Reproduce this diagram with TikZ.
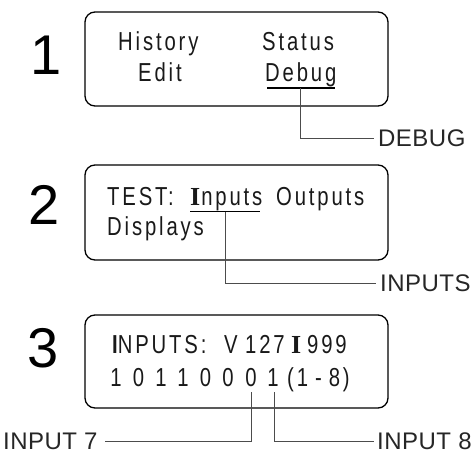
\documentclass[tikz,border=0pt]{standalone}
\usepackage{fontspec}
\setmainfont{Liberation Sans}
\newfontfamily\boxfont[FakeStretch=0.78,LetterSpace=11]{Liberation Sans}
\newfontfamily\labfont[LetterSpace=2]{Liberation Sans}
\newfontfamily\serifb{Liberation Serif}
\tikzset{
  panel/.style={draw=black, line width=1.3pt, rounded corners=10pt, minimum width=303pt, inner sep=0pt},
  txt/.style={font=\boxfont\fontsize{26}{30}\selectfont, inner sep=0pt, anchor=base west, text=black!90},
  dig/.style={font=\boxfont\fontsize{26}{30}\selectfont, inner sep=0pt, anchor=base, text=black!90},
  lab/.style={font=\labfont\fontsize{24}{28}\selectfont, inner sep=0pt, text=black!85},
  num/.style={font=\fontsize{56}{60}\selectfont, inner sep=0pt},
  lead/.style={draw=black!70, line width=0.9pt},
  uline/.style={draw=black, line width=1.2pt}
}
\begin{document}
\begin{tikzpicture}[x=1pt,y=-1pt]
\useasboundingbox (0,0) rectangle (474,453);
% panel 1
\node[num] (n1) at (46,55) {1};
\node[panel, minimum height=94pt] (p1) at (236.5,59) {};
\node[txt] (history) at (118,50) {History};
\node[txt] (status) at (262,50) {Status};
\node[txt] (edit) at (138,81) {Edit};
\node[txt] (debug) at (265,81) {Debug};
\draw[uline] ([xshift=2pt,yshift=-1.5pt]debug.south west) -- ([xshift=-2pt,yshift=-1.5pt]debug.south east);
\node[lab, anchor=west] (lDEBUG) at (378,138) {DEBUG};
\draw[lead] ([yshift=-1.5pt]debug.south) |- ([xshift=-4pt]lDEBUG.west);
% panel 2
\node[num] (n2) at (44,205) {2};
\node[panel, minimum height=95pt] (p2) at (236.5,212.5) {};
\node[txt] (test) at (107,205) {TEST:};
\node[txt] (inputs) at (190,205) {{\serifb\bfseries I}\kern1pt nputs};
\node[txt] (outputs) at (276,205) {Outputs};
\node[txt] (displays) at (107,235) {Displays};
\draw[uline] ([yshift=-1pt]inputs.south west) -- ([xshift=-3pt,yshift=-1pt]inputs.south east);
\node[lab, anchor=west] (lINPUTS) at (380,283) {INPUTS};
\draw[lead] ([xshift=-1pt,yshift=-1pt]inputs.south) |- ([xshift=-4pt]lINPUTS.west);
% panel 3
\node[num] (n3) at (43,348) {3};
\node[panel, minimum height=93pt] (p3) at (236.5,361.5) {};
\node[txt] (inp) at (112,353) {{\bfseries I}NPUTS:};
\node[txt] (vv) at (224,353) {V};
\node[txt] (v127) at (245,353) {127};
\node[txt] (ii) at (291,353) {\serifb\bfseries I};
\node[txt] (i999) at (307,353) {999};
\node[dig] (d1) at (116,386) {1};
\node[dig] (d2) at (138.5,386) {0};
\node[dig] (d3) at (161,386) {1};
\node[dig] (d4) at (183,386) {1};
\node[dig] (d5) at (205.5,386) {0};
\node[dig] (d6) at (228,386) {0};
\node[dig] (d7) at (251,386) {0};
\node[dig] (d8) at (273,386) {1};
\node[txt] (range) at (287,386) {(1\kern7pt-\kern7pt8)};
\node[lab, anchor=west] (lIN7) at (3,441) {INPUT 7};
\node[lab, anchor=west] (lIN8) at (377,441) {INPUT 8};
\draw[lead] ([yshift=-6pt]d7.south) |- ([xshift=7pt]lIN7.east);
\draw[lead] ([xshift=1pt,yshift=-6pt]d8.south) |- ([xshift=-3pt]lIN8.west);
\end{tikzpicture}
\end{document}
